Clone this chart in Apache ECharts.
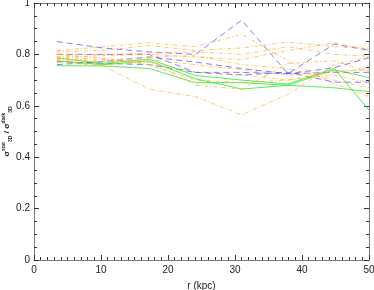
<!DOCTYPE html>
<html><head><meta charset="utf-8">
<script src="https://cdn.jsdelivr.net/npm/echarts@6/dist/echarts.min.js"></script>
<style>html,body{margin:0;padding:0;background:#fff}#c{width:374px;height:290px}</style>
</head><body><div id="c"></div>
<script>
// radii (kpc) of the profile points
const radii = [3.4, 10.3, 17.2, 24.1, 31.0, 37.9, 44.8, 51.7];
const xTicks = [0, 10, 20, 30, 40, 50];
const yTicks = [0, 0.2, 0.4, 0.6, 0.8, 1];

// blue dashed profiles
const blue1 = [0.850, 0.825, 0.810, 0.800, 0.933, 0.725, 0.840, 0.808];
const blue2 = [0.800, 0.800, 0.800, 0.730, 0.730, 0.725, 0.730, 0.730];
const blue3 = [0.772, 0.765, 0.760, 0.730, 0.720, 0.730, 0.692, 0.692];
const blue4 = [0.760, 0.772, 0.790, 0.770, 0.745, 0.725, 0.748, 0.800];

// green solid profiles
const green1 = [0.786, 0.765, 0.782, 0.718, 0.700, 0.685, 0.745, 0.530];
const green2 = [0.775, 0.760, 0.775, 0.705, 0.665, 0.680, 0.740, 0.700];
const green3 = [0.756, 0.755, 0.745, 0.690, 0.690, 0.680, 0.670, 0.650];

// orange dash-dot profiles
const orange1 = [0.770, 0.755, 0.665, 0.635, 0.565, 0.645, 0.760, 0.800];
const orange2 = [0.815, 0.830, 0.845, 0.830, 0.878, 0.775, 0.685, 0.620];
const orange3 = [0.810, 0.815, 0.835, 0.815, 0.825, 0.848, 0.830, 0.820];
const orange4 = [0.800, 0.800, 0.805, 0.810, 0.800, 0.830, 0.800, 0.790];
const orange5 = [0.790, 0.795, 0.800, 0.790, 0.780, 0.815, 0.845, 0.810];
const orange6 = [0.785, 0.775, 0.790, 0.795, 0.760, 0.745, 0.700, 0.660];
const orange7 = [0.780, 0.770, 0.780, 0.760, 0.740, 0.720, 0.730, 0.750];
const orange8 = [0.775, 0.760, 0.770, 0.730, 0.720, 0.700, 0.720, 0.680];
const orange9 = [0.790, 0.780, 0.770, 0.680, 0.665, 0.765, 0.775, 0.720];
const orange10 = [0.800, 0.785, 0.760, 0.700, 0.690, 0.700, 0.735, 0.740];

const blues = [blue1, blue2, blue3, blue4];
const greens = [green1, green2, green3];
const oranges = [orange1, orange2, orange3, orange4, orange5, orange6, orange7, orange8, orange9, orange10];

const pairs = v => radii.map((r, i) => [r, v[i]]);
const mk = (v, color, type, op) => ({
  type: 'line', data: pairs(v), symbol: 'none', silent: true, clip: true,
  lineStyle: { color: color, width: 1, type: type, opacity: op }
});

const series = [];
blues.forEach(v => series.push(mk(v, '#4a4aff', [6, 4], 0.7)));
greens.forEach(v => series.push(mk(v, '#2ee82e', 'solid', 0.8)));
oranges.forEach(v => series.push(mk(v, '#ffa726', [4, 2, 1, 2], 0.65)));

const frame = '#7a7a7a';
const lbl = { color: '#222', fontSize: 10, fontFamily: 'Liberation Sans' };
const axX = (pos, show) => ({
  type: 'value', min: 0, max: 50, interval: 10, position: pos,
  axisLine: { show: true, onZero: false, lineStyle: { color: frame, width: 1 } },
  axisTick: { show: true, inside: true, length: 5, lineStyle: { color: '#333' } },
  minorTick: { show: true, splitNumber: 10, length: 3, lineStyle: { color: '#333' } },
  splitLine: { show: false },
  axisLabel: Object.assign({ show: show, margin: 5, formatter: v => xTicks.includes(v) ? String(v) : '' }, lbl),
  name: show ? 'r (kpc)' : '', nameLocation: 'middle', nameGap: 21, nameMoveOverlap: false,
  nameTextStyle: { color: '#222', fontSize: 10, fontFamily: 'Liberation Sans' }
});
const axY = (pos, show) => ({
  type: 'value', min: 0, max: 1, interval: 0.2, position: pos,
  axisLine: { show: true, onZero: false, lineStyle: { color: frame, width: 1 } },
  axisTick: { show: true, inside: true, length: 5, lineStyle: { color: '#333' } },
  minorTick: { show: true, splitNumber: 4, length: 3, lineStyle: { color: '#333' } },
  splitLine: { show: false },
  axisLabel: Object.assign({ show: show, margin: 4, formatter: v => {
    const t = yTicks.find(k => Math.abs(k - v) < 1e-9);
    return t === undefined ? '' : String(t);
  } }, lbl),
  name: show ? '{s|σ}{sup|star}{sub|3D}{s| / σ}{sup|dark}{sub|3D}' : '',
  nameLocation: 'middle', nameGap: 21, nameRotate: 90, nameMoveOverlap: false,
  nameTextStyle: {
    color: '#222', fontFamily: 'Liberation Sans',
    rich: {
      s: { fontSize: 8, fontWeight: 'bold', color: '#222', lineHeight: 12, verticalAlign: 'middle' },
      sup: { fontSize: 5, fontWeight: 'bold', color: '#222', lineHeight: 12, verticalAlign: 'top' },
      sub: { fontSize: 5, fontWeight: 'bold', color: '#222', lineHeight: 12, verticalAlign: 'bottom' }
    }
  }
});

const chart = echarts.init(document.getElementById('c'), null, { renderer: 'canvas' });
chart.setOption({
  animation: false,
  backgroundColor: '#fff',
  grid: { left: 34, right: 5, top: 3, bottom: 30, containLabel: false, outerBoundsMode: 'none' },
  xAxis: [axX('bottom', true), axX('top', false)],
  yAxis: [axY('left', true), axY('right', false)],
  series: series
});
</script>
</body></html>
